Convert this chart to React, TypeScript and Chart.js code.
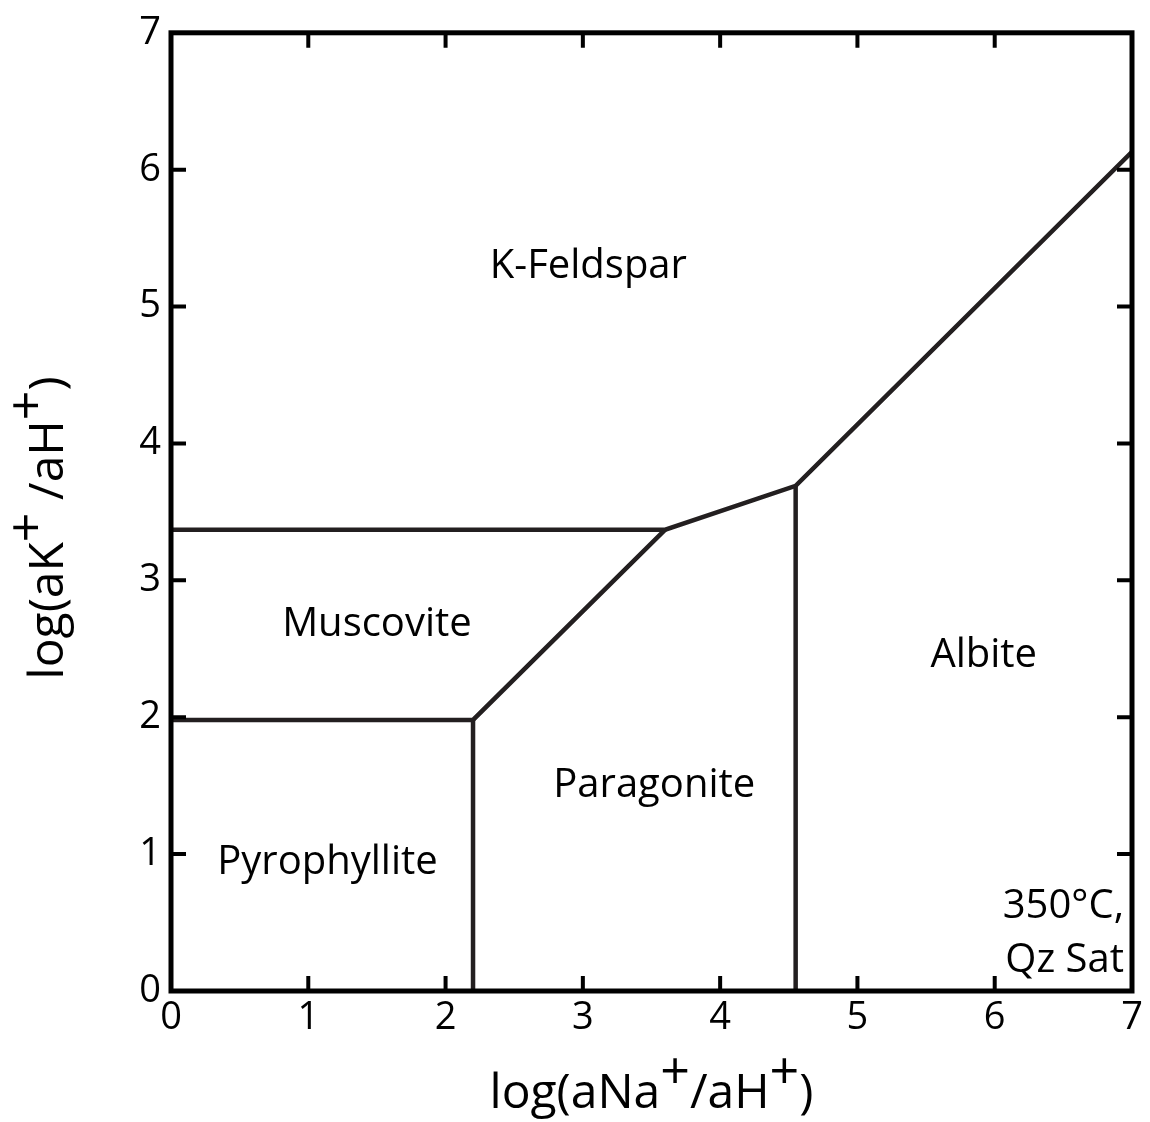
import { useEffect, useRef } from "react";
import { Chart, registerables } from "chart.js";

Chart.register(...registerables);

const FONT = '"Open Sans", "Noto Sans", sans-serif';
const INK = "#231f20";

// Axis range and the integer ticks shared by both axes
const axisMin = 0;
const axisMax = 7;
const innerTicks = [1, 2, 3, 4, 5, 6];

// Phase boundaries in log(aNa+/aH+) – log(aK+/aH+) space
const kFeldsparBoundaryX = [0, 3.6, 4.55, 7];
const kFeldsparBoundaryY = [3.37, 3.37, 3.69, 6.13];
const muscoviteLowerX = [0, 2.2, 3.6];
const muscoviteLowerY = [1.98, 1.98, 3.37];
const paragoniteWestX = [2.2, 2.2];
const paragoniteWestY = [0, 1.98];
const albiteWestX = [4.55, 4.55];
const albiteWestY = [0, 3.69];

// Stability-field labels
const fieldNames = ["K-Feldspar", "Muscovite", "Albite", "Paragonite", "Pyrophyllite"];
const fieldLabelX = [3.04, 1.5, 5.92, 3.52, 1.14];
const fieldLabelY = [5.29, 2.68, 2.45, 1.5, 0.94];

// Conditions note
const noteLines = ["350°C,", "Qz Sat"];

// Axis titles with superscript charges
const xTitleParts: [string, boolean][] = [["log(aNa", false], ["+", true], ["/aH", false], ["+", true], [")", false]];
const yTitleParts: [string, boolean][] = [["log(aK", false], ["+", true], [" /aH", false], ["+", true], [")", false]];

const toPoints = (xs: number[], ys: number[]) => xs.map((x, i) => ({ x, y: ys[i] }));

function drawRich(ctx: CanvasRenderingContext2D, parts: [string, boolean][], size: number, supSize: number, raise: number) {
  const widths = parts.map(([t, sup]) => {
    ctx.font = `${sup ? supSize : size}px ${FONT}`;
    return ctx.measureText(t).width;
  });
  const total = widths.reduce((a, b) => a + b, 0);
  let x = -total / 2;
  parts.forEach(([t, sup], i) => {
    ctx.font = `${sup ? supSize : size}px ${FONT}`;
    ctx.fillText(t, x, sup ? -raise : 0);
    x += widths[i];
  });
}

const framePlugin = {
  id: "diagramFrame",
  afterDraw(chart: Chart) {
    const { ctx, chartArea } = chart;
    const xs = chart.scales.x;
    const ys = chart.scales.y;
    const { left, right, top, bottom } = chartArea;
    ctx.save();

    // inward ticks on all four sides
    ctx.strokeStyle = "#000";
    ctx.lineWidth = 4;
    ctx.lineCap = "butt";
    const len = 15;
    innerTicks.forEach((v) => {
      const px = xs.getPixelForValue(v);
      const py = ys.getPixelForValue(v);
      ctx.beginPath();
      ctx.moveTo(px, bottom);
      ctx.lineTo(px, bottom - len);
      ctx.moveTo(px, top);
      ctx.lineTo(px, top + len);
      ctx.moveTo(left, py);
      ctx.lineTo(left + len, py);
      ctx.moveTo(right, py);
      ctx.lineTo(right - len, py);
      ctx.stroke();
    });

    // frame
    ctx.lineWidth = 5;
    ctx.lineJoin = "miter";
    ctx.strokeRect(left, top, right - left, bottom - top);

    // field labels
    ctx.fillStyle = "#000";
    ctx.font = `40px ${FONT}`;
    ctx.textAlign = "center";
    ctx.textBaseline = "middle";
    fieldNames.forEach((name, i) => {
      ctx.fillText(name, xs.getPixelForValue(fieldLabelX[i]), ys.getPixelForValue(fieldLabelY[i]));
    });

    // conditions note, right aligned in the lower-right corner
    ctx.textAlign = "right";
    ctx.fillText(noteLines[0], right - 8, bottom - 84);
    ctx.fillText(noteLines[1], right - 8, bottom - 30);

    // axis titles
    ctx.textAlign = "left";
    ctx.textBaseline = "alphabetic";
    ctx.save();
    ctx.translate((left + right) / 2, 1108);
    drawRich(ctx, xTitleParts, 48, 52, 19);
    ctx.restore();

    ctx.save();
    ctx.translate(63, (top + bottom) / 2 + 16);
    ctx.rotate(-Math.PI / 2);
    drawRich(ctx, yTitleParts, 48, 52, 19);
    ctx.restore();

    ctx.restore();
  },
};

export default function App() {
  const canvasRef = useRef<HTMLCanvasElement | null>(null);

  useEffect(() => {
    const canvas = canvasRef.current;
    if (!canvas) return;
    const lineStyle = {
      borderColor: INK,
      borderWidth: 4.5,
      borderJoinStyle: "miter" as const,
      borderCapStyle: "butt" as const,
      pointRadius: 0,
      showLine: true,
      fill: false,
      tension: 0,
    };
    const chart = new Chart(canvas, {
      type: "scatter",
      data: {
        datasets: [
          { label: "K-Feldspar boundary", data: toPoints(kFeldsparBoundaryX, kFeldsparBoundaryY), ...lineStyle },
          { label: "Muscovite lower boundary", data: toPoints(muscoviteLowerX, muscoviteLowerY), ...lineStyle },
          { label: "Pyrophyllite–Paragonite", data: toPoints(paragoniteWestX, paragoniteWestY), ...lineStyle },
          { label: "Paragonite–Albite", data: toPoints(albiteWestX, albiteWestY), ...lineStyle },
        ],
      },
      options: {
        animation: false,
        responsive: false,
        maintainAspectRatio: false,
        devicePixelRatio: 1,
        layout: { padding: { top: 30, right: 18, left: 0, bottom: 0 } },
        plugins: {
          legend: { display: false },
          tooltip: { enabled: false },
        },
        scales: {
          x: {
            type: "linear",
            min: axisMin,
            max: axisMax,
            grid: { display: false, drawTicks: false },
            border: { display: false },
            ticks: {
              stepSize: 1,
              color: "#000",
              padding: 4,
              font: { family: FONT, size: 38 },
              maxRotation: 0,
            },
            afterFit: (scale: any) => {
              scale.height = 131;
            },
          },
          y: {
            type: "linear",
            min: axisMin,
            max: axisMax,
            grid: { display: false, drawTicks: false },
            border: { display: false },
            ticks: {
              stepSize: 1,
              color: "#000",
              padding: 10,
              font: { family: FONT, size: 38 },
            },
            afterFit: (scale: any) => {
              scale.width = 171;
            },
          },
        },
      },
      plugins: [framePlugin],
    });
    return () => chart.destroy();
  }, []);

  return (
    <div style={{ position: "fixed", left: 0, top: 0, width: 1150, height: 1122, background: "#fff" }}>
      <canvas ref={canvasRef} width={1150} height={1122} style={{ width: 1150, height: 1122, display: "block" }} />
    </div>
  );
}
